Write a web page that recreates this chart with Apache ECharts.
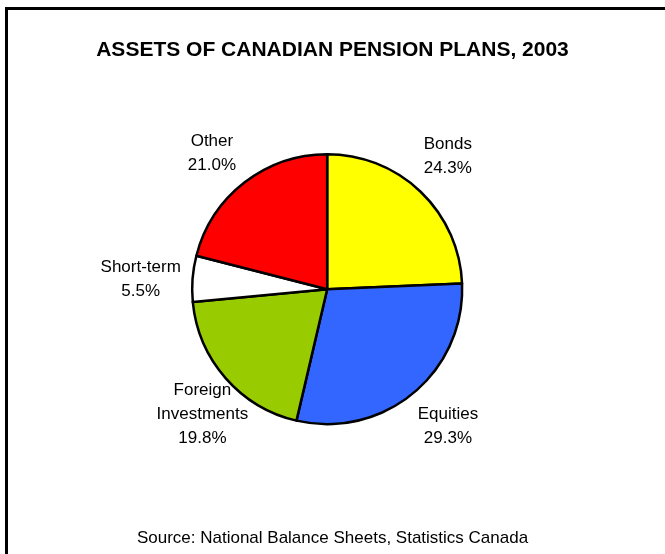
<!DOCTYPE html>
<html>
<head>
<meta charset="utf-8">
<script src="https://cdn.jsdelivr.net/npm/echarts@6/dist/echarts.min.js"></script>
<style>
  html, body { margin: 0; padding: 0; background: #fff; }
  #wrap { position: relative; width: 665px; height: 554px; overflow: hidden; }
  #chart { position: absolute; left: 0; top: 0; width: 665px; height: 554px; }
  #frame { position: absolute; left: 5px; top: 7px; width: 700px; height: 600px;
           border-left: 3px solid #000; border-top: 3px solid #000; pointer-events: none; }
</style>
</head>
<body>
<div id="wrap">
  <div id="chart"></div>
  <div id="frame"></div>
</div>
<script>
// Asset classes held by Canadian pension plans, 2003 (share of total, %)
const categories = ['Bonds', 'Equities', 'Foreign\nInvestments', 'Short-term', 'Other'];
const shares = [24.3, 29.3, 19.8, 5.5, 21.0];
const sliceColors = ['#FFFF00', '#3366FF', '#99CC00', '#FFFFFF', '#FF0000'];

const FONT = '"Liberation Sans", Arial, sans-serif';
const center = ['49.2%', '52.2%'];

// small hand nudges so each label sits clear of its slice
const labelNudge = [[-6, -1], [4, -4], [13, 5], [-4, 4], [-3, 9]];

const pieData = categories.map((name, i) => ({
  name: name,
  value: shares[i],
  itemStyle: { color: sliceColors[i] }
}));

const chart = echarts.init(document.getElementById('chart'), null, { renderer: 'canvas' });

chart.setOption({
  animation: false,
  backgroundColor: '#ffffff',
  title: [
    {
      text: 'ASSETS OF CANADIAN PENSION PLANS, 2003',
      left: 'center',
      top: 35,
      textStyle: { fontFamily: FONT, fontWeight: 'bold', fontSize: 21, color: '#000' }
    },
    {
      text: 'Source: National Balance Sheets, Statistics Canada',
      left: 'center',
      top: 525,
      textStyle: { fontFamily: FONT, fontWeight: 'normal', fontSize: 17, color: '#000' }
    }
  ],
  series: [
    {
      // the pie itself
      type: 'pie',
      center: center,
      radius: 135,
      startAngle: 90,
      clockwise: true,
      silent: true,
      data: pieData,
      itemStyle: { borderColor: '#000', borderWidth: 2.5 },
      label: { show: false },
      labelLine: { show: false }
    },
    {
      // invisible ring that carries the category / percentage labels
      type: 'pie',
      center: center,
      radius: [170, 190],
      startAngle: 90,
      clockwise: true,
      silent: true,
      data: pieData.map((d, i) => ({
        name: d.name,
        value: d.value,
        label: { offset: labelNudge[i] }
      })),
      itemStyle: { color: 'rgba(0,0,0,0)', borderWidth: 0 },
      label: {
        show: true,
        position: 'inside',
        rotate: 0,
        align: 'center',
        fontFamily: FONT,
        fontSize: 17,
        lineHeight: 24,
        color: '#000',
        formatter: p => p.name + '\n' + p.value.toFixed(1) + '%'
      },
      labelLine: { show: false }
    }
  ]
});
</script>
</body>
</html>
